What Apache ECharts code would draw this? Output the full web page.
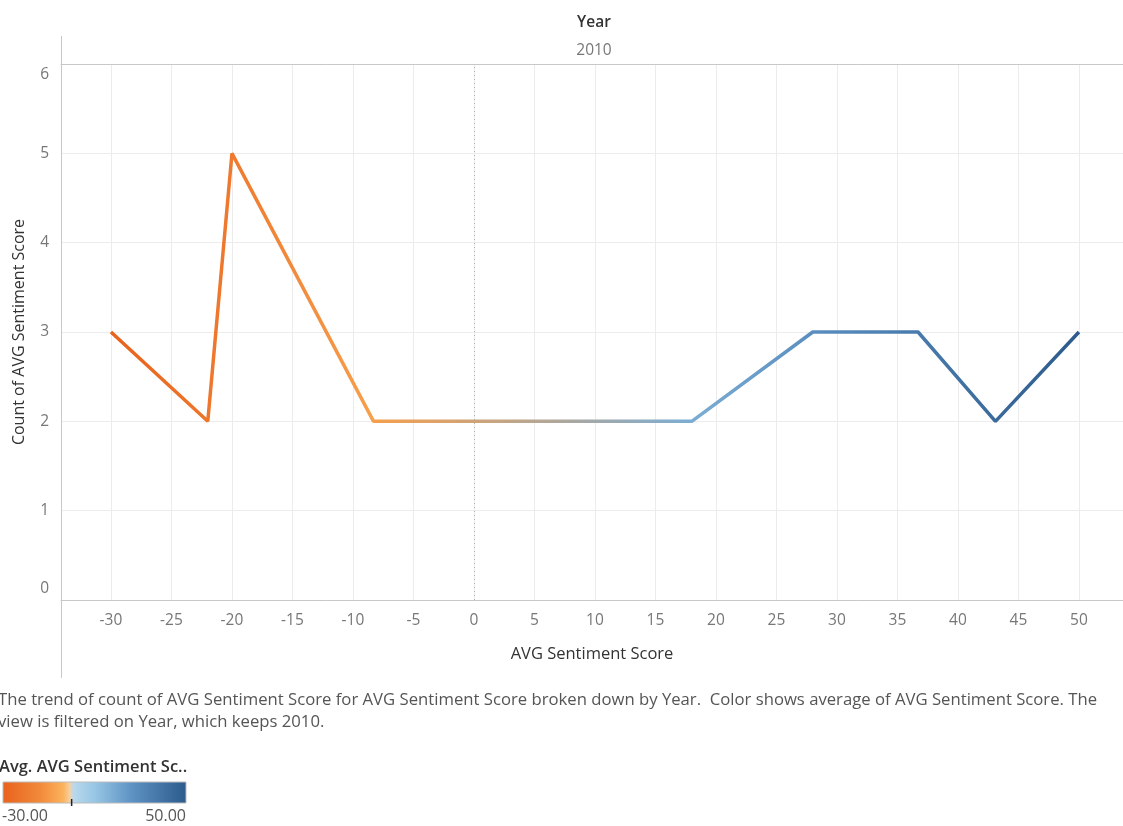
<!DOCTYPE html>
<html><head><meta charset="utf-8">
<script src="https://cdn.jsdelivr.net/npm/echarts@6/dist/echarts.min.js"></script>
<style>html,body{margin:0;padding:0;background:#fff}#c{width:1123px;height:826px}</style>
</head><body><div id="c"></div>
<script>
// ---- data ----
const scores = [-30, -22, -20, -8.3, 18, 28, 36.7, 43.1, 50];
const counts = [3, 2, 5, 2, 2, 3, 3, 2, 3];
const xTicks = [-30, -25, -20, -15, -10, -5, 0, 5, 10, 15, 20, 25, 30, 35, 40, 45, 50];
const yTicks = [0, 1, 2, 3, 4, 5, 6];
const legendMin = -30, legendMax = 50, legendCenter = 0;
const headerTitle = 'Year', headerValue = '2010';
const caption1 = 'The trend of count of AVG Sentiment Score for AVG Sentiment Score broken down by Year.  Color shows average of AVG Sentiment Score. The';
const caption2 = 'view is filtered on Year, which keeps 2010.';
const legendTitle = 'Avg. AVG Sentiment Sc..';

// ---- style ----
const paletteStops = [[0,'#e8621c'],[0.2,'#f1893a'],[0.33,'#fbb25c'],[0.365,'#f7cf9f'],[0.385,'#b9d9ed'],[0.5,'#98c6e4'],[0.7,'#5e93c4'],[1,'#2c5a8c']];
const FONT = '"Open Sans", "Noto Sans", sans-serif';
const xMin = -34.13, xMax = 53.64;

function hex2rgb(h){h=h.replace('#','');return [0,2,4].map(i=>parseInt(h.substr(i,2),16));}
function rgb2hex(a){return '#'+a.map(v=>Math.round(v).toString(16).padStart(2,'0')).join('');}
function palette(t){
  t=Math.max(0,Math.min(1,t));
  for(let i=1;i<paletteStops.length;i++){
    const [o1,c1]=paletteStops[i-1],[o2,c2]=paletteStops[i];
    if(t<=o2){const f=(t-o1)/(o2-o1);const a=hex2rgb(c1),b=hex2rgb(c2);return rgb2hex(a.map((v,k)=>v+(b[k]-v)*f));}
  }
  return paletteStops[paletteStops.length-1][1];
}
const sMin=Math.min(...scores), sMax=Math.max(...scores);
const lineStops = scores.map(s=>({offset:(s-sMin)/(sMax-sMin), color:palette((s-legendMin)/(legendMax-legendMin))}));
const legendStops = paletteStops.map(([o,c])=>({offset:o,color:c}));

const chart = echarts.init(document.getElementById('c'), null, {renderer:'canvas'});
const gridLeft=61, gridTop=64, gridBottomPx=600;
chart.setOption({
  animation:false,
  backgroundColor:'#fff',
  grid:{left:gridLeft, top:gridTop, right:0, bottom:826-gridBottomPx, containLabel:false},
  xAxis:[{
    type:'value', min:xMin, max:xMax,
    axisLine:{show:true, onZero:false, lineStyle:{color:'#c8c8c8'}},
    axisTick:{show:false, customValues:xTicks},
    axisLabel:{customValues:xTicks, color:'#777', fontSize:15.5, margin:13, fontFamily:FONT},
    splitLine:{show:true, lineStyle:{color:'#ececec'}},
    name:'AVG Sentiment Score', nameLocation:'middle', nameGap:46,
    nameTextStyle:{color:'#333', fontSize:16.5, fontFamily:FONT}
  },{
    type:'value', position:'top', min:xMin, max:xMax,
    axisLine:{show:true, onZero:false, lineStyle:{color:'#c8c8c8'}},
    axisTick:{show:false}, axisLabel:{show:false}, splitLine:{show:false}
  }],
  yAxis:{
    type:'value', min:0, max:6, interval:1,
    axisLine:{show:true, onZero:false, lineStyle:{color:'#c8c8c8'}},
    axisTick:{show:false},
    axisLabel:{color:'#777', fontSize:15.5, margin:12, fontFamily:FONT, verticalAlignMinLabel:'bottom', verticalAlignMaxLabel:'top', padding:[3,0,3,0]},
    splitLine:{show:true, lineStyle:{color:'#ececec'}},
    name:'Count of AVG Sentiment Score', nameLocation:'middle', nameGap:34,
    nameTextStyle:{color:'#333', fontSize:16, fontFamily:FONT}
  },
  series:[{
    type:'line', xAxisIndex:0,
    data:scores.map((s,i)=>[s,counts[i]]),
    showSymbol:false, symbol:'none',
    lineStyle:{width:3.5, color:{type:'linear',x:0,y:0,x2:1,y2:0,colorStops:lineStops}},
    markLine:{silent:true, symbol:'none', label:{show:false},
      lineStyle:{type:[1,3], color:'#b0b0b0', width:1},
      data:[{xAxis:legendCenter}]},
    z:3
  }],
  graphic:[
    {type:'line', shape:{x1:61.5,y1:36,x2:61.5,y2:64}, style:{stroke:'#c8c8c8',lineWidth:1}},
    {type:'line', shape:{x1:61.5,y1:600,x2:61.5,y2:678}, style:{stroke:'#c8c8c8',lineWidth:1}},
    {type:'text', x:594, y:23, style:{text:headerTitle, fill:'#333', font:'600 15.5px '+FONT, textAlign:'center', textVerticalAlign:'middle'}},
    {type:'text', x:594, y:51, style:{text:headerValue, fill:'#777', font:'15.5px '+FONT, textAlign:'center', textVerticalAlign:'middle'}},
    {type:'text', x:-2, y:700, style:{text:caption1, fill:'#555', font:'16.7px '+FONT, textVerticalAlign:'middle'}},
    {type:'text', x:-2, y:722, style:{text:caption2, fill:'#555', font:'16.7px '+FONT, textVerticalAlign:'middle'}},
    {type:'text', x:-1, y:767, style:{text:legendTitle, fill:'#333', font:'600 16.5px '+FONT, textVerticalAlign:'middle'}},
    {type:'rect', shape:{x:3,y:782,width:183,height:21}, style:{stroke:'#bbb', lineWidth:1, fill:{type:'linear',x:0,y:0,x2:1,y2:0,colorStops:legendStops}}},
    {type:'line', shape:{x1:3+183*(legendCenter-legendMin)/(legendMax-legendMin),y1:799,x2:3+183*(legendCenter-legendMin)/(legendMax-legendMin),y2:806}, style:{stroke:'#222',lineWidth:1.5}},
    {type:'text', x:2, y:816, style:{text:legendMin.toFixed(2), fill:'#555', font:'16px '+FONT, textVerticalAlign:'middle'}},
    {type:'text', x:186, y:816, style:{text:legendMax.toFixed(2), fill:'#555', font:'16px '+FONT, textAlign:'right', textVerticalAlign:'middle'}}
  ]
});
</script></body></html>
